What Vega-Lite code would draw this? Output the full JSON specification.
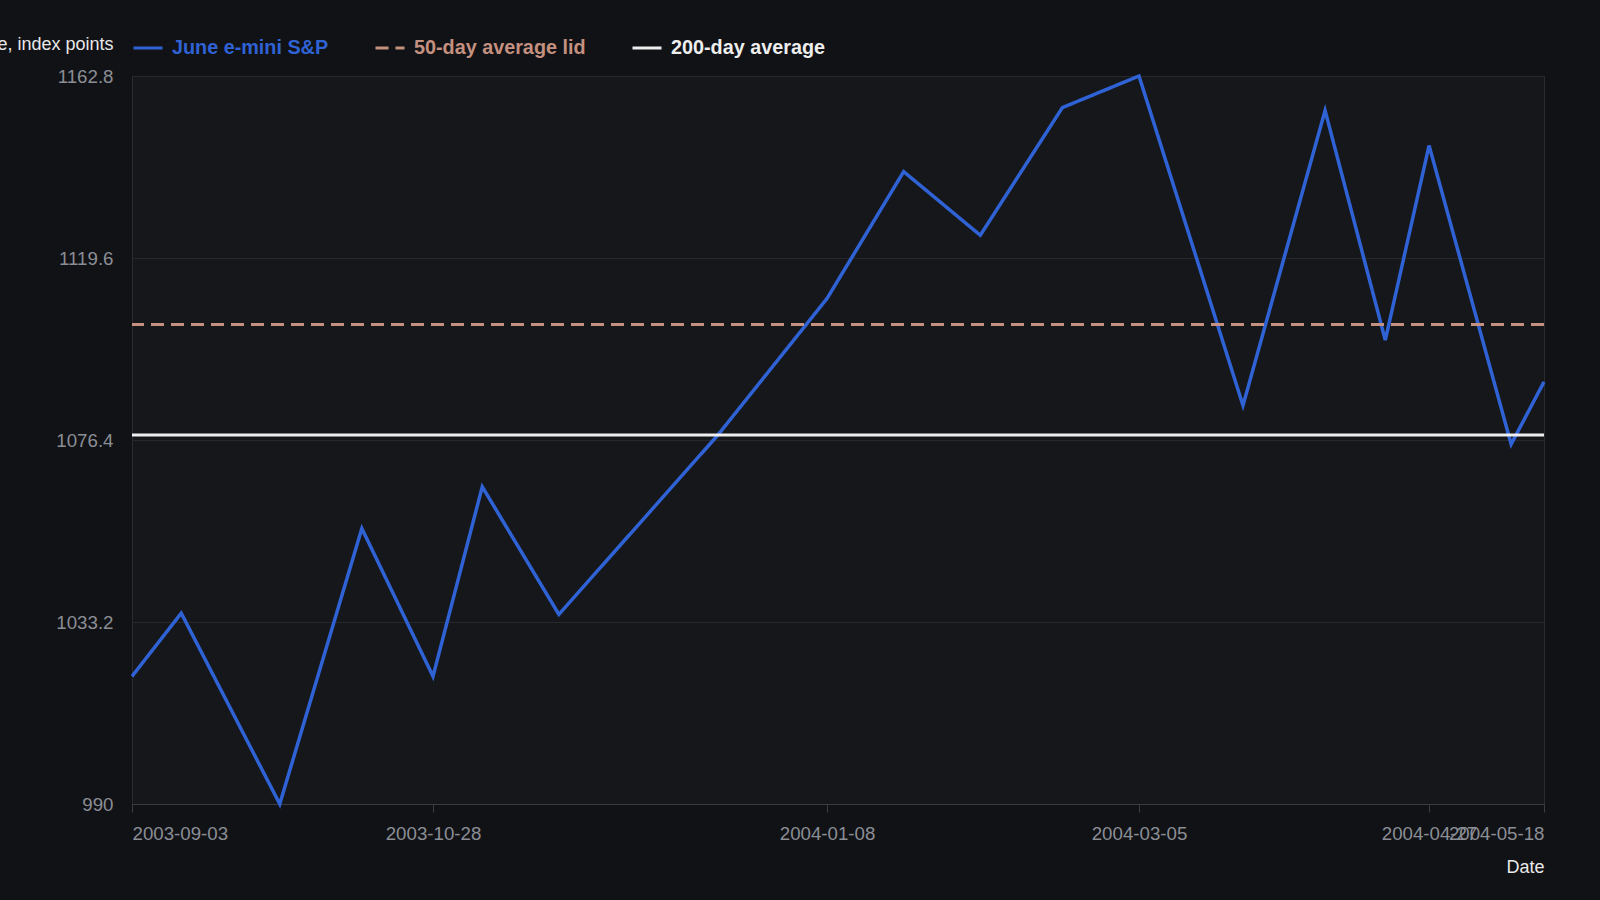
{
  "$schema": "https://vega.github.io/schema/vega-lite/v6.json",
  "autosize": {"type": "none"},
  "width": 1412,
  "height": 728,
  "padding": {"left": 132, "top": 76, "right": 56, "bottom": 96},
  "background": "#111216",
  "config": {
    "font": "Liberation Sans",
    "view": {"fill": "#16171b", "stroke": "#2a2c31", "strokeWidth": 1},
    "axis": {
      "labelColor": "#8b8e95",
      "labelFontSize": 18.7,
      "titleColor": "#e8e8e8",
      "titleFontSize": 18,
      "titleFontWeight": "normal",
      "gridColor": "#26282d",
      "domainColor": "#3a3c42",
      "tickColor": "#3a3c42"
    }
  },
  "datasets": {
    "prices": [
      {"date": "2003-09-03", "price": 1020.3, "series": "June e-mini S&P"},
      {"date": "2003-09-12", "price": 1035.3, "series": "June e-mini S&P"},
      {"date": "2003-09-30", "price": 990.0, "series": "June e-mini S&P"},
      {"date": "2003-10-15", "price": 1055.4, "series": "June e-mini S&P"},
      {"date": "2003-10-28", "price": 1020.3, "series": "June e-mini S&P"},
      {"date": "2003-11-06", "price": 1065.3, "series": "June e-mini S&P"},
      {"date": "2003-11-20", "price": 1035.0, "series": "June e-mini S&P"},
      {"date": "2003-12-19", "price": 1077.5, "series": "June e-mini S&P"},
      {"date": "2004-01-08", "price": 1110.0, "series": "June e-mini S&P"},
      {"date": "2004-01-22", "price": 1140.1, "series": "June e-mini S&P"},
      {"date": "2004-02-05", "price": 1125.0, "series": "June e-mini S&P"},
      {"date": "2004-02-20", "price": 1155.3, "series": "June e-mini S&P"},
      {"date": "2004-03-05", "price": 1162.8, "series": "June e-mini S&P"},
      {"date": "2004-03-24", "price": 1084.6, "series": "June e-mini S&P"},
      {"date": "2004-04-08", "price": 1154.6, "series": "June e-mini S&P"},
      {"date": "2004-04-19", "price": 1100.1, "series": "June e-mini S&P"},
      {"date": "2004-04-27", "price": 1146.3, "series": "June e-mini S&P"},
      {"date": "2004-05-12", "price": 1075.4, "series": "June e-mini S&P"},
      {"date": "2004-05-18", "price": 1090.2, "series": "June e-mini S&P"}
    ],
    "averages": [
      {"series": "50-day average lid", "value": 1103.8},
      {"series": "200-day average", "value": 1077.6}
    ]
  },
  "encoding": {
    "color": {
      "field": "series",
      "type": "nominal",
      "scale": {
        "domain": ["June e-mini S&P", "50-day average lid", "200-day average"],
        "range": ["#2f62d4", "#c4907f", "#eeeeee"]
      },
      "legend": {
        "title": null,
        "orient": "none",
        "direction": "horizontal",
        "legendX": 0,
        "legendY": -44,
        "symbolType": "stroke",
        "symbolSize": 841,
        "symbolStrokeWidth": 3,
        "labelOffset": 8,
        "labelFontSize": 19.8,
        "labelFontWeight": "bold",
        "columnPadding": 40,
        "labelLimit": 400,
        "encode": {"labels": {"update": {"fill": {"scale": "color", "field": "value"}}}}
      }
    },
    "strokeDash": {
      "field": "series",
      "type": "nominal",
      "scale": {
        "domain": ["June e-mini S&P", "50-day average lid", "200-day average"],
        "range": [[1, 0], [13, 7], [1, 0]]
      },
      "legend": null
    }
  },
  "layer": [
    {
      "data": {"name": "prices"},
      "mark": {"type": "line", "strokeWidth": 3.5},
      "encoding": {
        "x": {
          "field": "date",
          "type": "temporal",
          "scale": {
            "type": "utc",
            "nice": false,
            "domain": [
              {"year": 2003, "month": 9, "date": 3, "utc": true},
              {"year": 2004, "month": 5, "date": 18, "utc": true}
            ]
          },
          "axis": {
            "title": "Date",
            "titleX": 1412,
            "titleY": 63,
            "titleAlign": "right",
            "titleBaseline": "middle",
            "grid": false,
            "format": "%Y-%m-%d",
            "values": [
              {"year": 2003, "month": 9, "date": 3, "utc": true},
              {"year": 2003, "month": 10, "date": 28, "utc": true},
              {"year": 2004, "month": 1, "date": 8, "utc": true},
              {"year": 2004, "month": 3, "date": 5, "utc": true},
              {"year": 2004, "month": 4, "date": 27, "utc": true},
              {"year": 2004, "month": 5, "date": 18, "utc": true}
            ],
            "labelFlush": true,
            "labelOverlap": false,
            "tickSize": 8,
            "labelPadding": 12
          }
        },
        "y": {
          "field": "price",
          "type": "quantitative",
          "scale": {"domain": [990, 1162.8], "nice": false, "zero": false},
          "axis": {
            "title": "Price, index points",
            "titleAngle": 0,
            "titleX": -19,
            "titleY": -32,
            "titleAlign": "right",
            "titleBaseline": "middle",
            "values": [990, 1033.2, 1076.4, 1119.6, 1162.8],
            "format": ".5~r",
            "ticks": false,
            "domain": false,
            "labelPadding": 19
          }
        }
      }
    },
    {
      "data": {"name": "averages"},
      "mark": {"type": "rule", "strokeWidth": 3},
      "encoding": {
        "y": {"field": "value", "type": "quantitative"}
      }
    }
  ]
}
